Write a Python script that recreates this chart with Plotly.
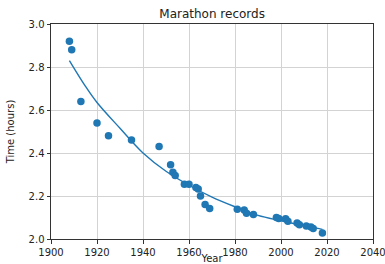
import plotly.graph_objects as go

years = [1908, 1909, 1913, 1920, 1925, 1935, 1947, 1952, 1953, 1954, 1958, 1960,
         1963, 1964, 1965, 1967, 1969, 1981, 1984, 1985, 1988, 1998, 1999, 2002,
         2003, 2007, 2008, 2011, 2013, 2014, 2018]
times = [2.92, 2.88, 2.64, 2.54, 2.48, 2.46, 2.43, 2.345, 2.31, 2.295, 2.255, 2.255,
         2.24, 2.232, 2.20, 2.16, 2.142, 2.138, 2.135, 2.12, 2.114, 2.10, 2.095, 2.094,
         2.082, 2.074, 2.066, 2.06, 2.056, 2.049, 2.028]

fit_years = [1908, 1915, 1920, 1930, 1940, 1950, 1960, 1970, 1980, 1990, 2000, 2010, 2018]
fit_times = [2.83, 2.71, 2.635, 2.515, 2.40, 2.315, 2.25, 2.195, 2.15, 2.11, 2.085, 2.062, 2.045]

blue = "#1f77b4"
fig = go.Figure()
fig.add_trace(go.Scatter(x=fit_years, y=fit_times, mode="lines",
                         line=dict(color=blue, width=1.4, shape="spline"),
                         showlegend=False, hoverinfo="skip"))
fig.add_trace(go.Scatter(x=years, y=times, mode="markers",
                         marker=dict(color=blue, size=7.5),
                         showlegend=False))

axis_common = dict(showgrid=True, gridcolor="#d3d3d3", gridwidth=1,
                   showline=True, linecolor="#333333", linewidth=1, mirror=True,
                   ticks="outside", ticklen=3.5, tickcolor="#333333",
                   zeroline=False, automargin=False, ticklabeloverflow="allow",
                   tickfont=dict(family="DejaVu Sans", size=10, color="#222222"))

fig.update_layout(
    width=385, height=264,
    margin=dict(l=51, r=12, t=24, b=25),
    paper_bgcolor="white", plot_bgcolor="white",
    font=dict(family="DejaVu Sans", size=10, color="#222222"),
    title=dict(text="Marathon records", x=0.551, xanchor="center",
               y=0.947, yanchor="middle", automargin=False,
               font=dict(family="DejaVu Sans", size=12, color="#222222")),
    xaxis=dict(range=[1900, 2040], dtick=20, tick0=1900,
               title=dict(text="Year", standoff=2,
                          font=dict(family="DejaVu Sans", size=10)),
               **axis_common),
    yaxis=dict(range=[2.0, 3.0], dtick=0.2, tick0=2.0, tickformat=".1f",
               title=dict(text="Time (hours)", standoff=12,
                          font=dict(family="DejaVu Sans", size=10)),
               **axis_common),
)

fig.write_html("out.html", config={"displayModeBar": False},
               post_script="document.body.style.margin='0';document.body.style.overflow='hidden';")
